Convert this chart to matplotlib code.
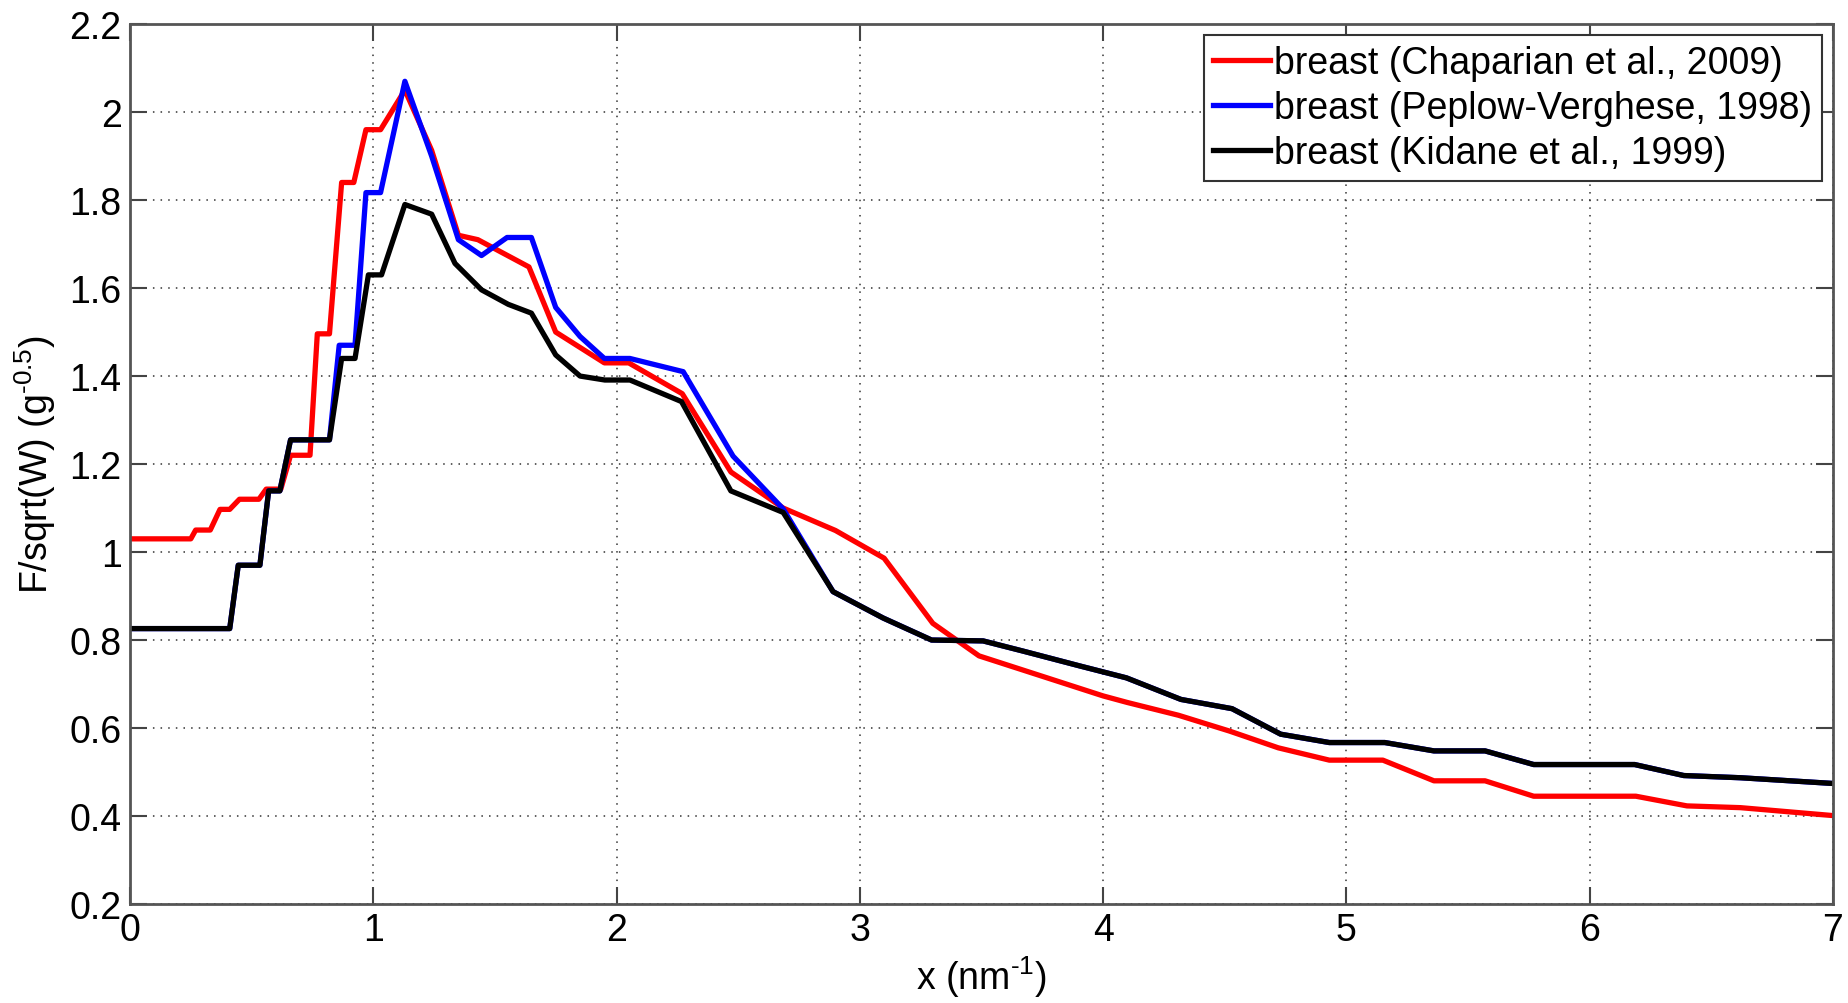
import matplotlib
matplotlib.use("Agg")
import matplotlib.pyplot as plt
from matplotlib.ticker import FuncFormatter

plt.rcParams['font.family'] = ['Liberation Sans', 'DejaVu Sans']
plt.rcParams['mathtext.fontset'] = 'custom'
plt.rcParams['mathtext.rm'] = 'Liberation Sans'
plt.rcParams['mathtext.it'] = 'Liberation Sans'
plt.rcParams['axes.unicode_minus'] = False

# Chaparian et al., 2009
x_chap = [0, 0.25, 0.27, 0.33, 0.37, 0.41, 0.45, 0.53, 0.56, 0.62, 0.66, 0.74,
          0.77, 0.82, 0.87, 0.92, 0.97, 1.03, 1.13, 1.24, 1.35, 1.43, 1.64, 1.75,
          1.95, 2.05, 2.27, 2.47, 2.685, 2.9, 3.1, 3.3, 3.49, 4.0, 4.1, 4.31,
          4.52, 4.72, 4.93, 5.15, 5.36, 5.57, 5.77, 6.19, 6.4, 6.62, 7.0]
y_chap = [1.03, 1.03, 1.05, 1.05, 1.097, 1.097, 1.12, 1.12, 1.143, 1.143, 1.22, 1.22,
          1.496, 1.496, 1.84, 1.84, 1.96, 1.96, 2.05, 1.913, 1.72, 1.71, 1.648, 1.50,
          1.43, 1.43, 1.36, 1.182, 1.10, 1.049, 0.986, 0.838, 0.764, 0.673, 0.658, 0.629,
          0.593, 0.555, 0.527, 0.527, 0.48, 0.48, 0.445, 0.445, 0.423, 0.419, 0.401]

# Kidane et al., 1999
x_kid = [0, 0.41, 0.445, 0.534, 0.57, 0.616, 0.66, 0.82, 0.87, 0.925, 0.98, 1.034,
         1.13, 1.24, 1.336, 1.445, 1.555, 1.65, 1.75, 1.85, 1.952, 2.055, 2.267,
         2.47, 2.685, 2.89, 3.096, 3.295, 3.507, 3.67, 3.905, 4.096, 4.32, 4.53,
         4.73, 4.93, 5.158, 5.36, 5.57, 5.77, 6.185, 6.387, 6.62, 7.0]
y_kid = [0.826, 0.826, 0.97, 0.97, 1.139, 1.139, 1.255, 1.255, 1.44, 1.44, 1.63, 1.63,
         1.79, 1.768, 1.656, 1.596, 1.563, 1.543, 1.448, 1.40, 1.391, 1.391, 1.342,
         1.139, 1.09, 0.91, 0.85, 0.80, 0.798, 0.775, 0.741, 0.714, 0.665, 0.644,
         0.586, 0.567, 0.567, 0.548, 0.548, 0.517, 0.517, 0.492, 0.487, 0.474]

# Peplow-Verghese, 1998
x_pep = [0, 0.41, 0.445, 0.534, 0.57, 0.616, 0.66, 0.82, 0.86, 0.925, 0.97, 1.03,
         1.13, 1.24, 1.35, 1.445, 1.55, 1.65, 1.75, 1.85, 1.95, 2.055, 2.274,
         2.479, 2.685, 2.89, 3.096, 3.295, 3.507, 3.67, 3.905, 4.096, 4.32, 4.53,
         4.73, 4.93, 5.158, 5.36, 5.57, 5.77, 6.185, 6.387, 6.62, 7.0]
y_pep = [0.826, 0.826, 0.97, 0.97, 1.139, 1.139, 1.255, 1.255, 1.47, 1.47, 1.817, 1.817,
         2.07, 1.90, 1.71, 1.674, 1.715, 1.715, 1.556, 1.49, 1.44, 1.44, 1.41,
         1.218, 1.098, 0.91, 0.85, 0.80, 0.798, 0.775, 0.741, 0.714, 0.665, 0.644,
         0.586, 0.567, 0.567, 0.548, 0.548, 0.517, 0.517, 0.492, 0.487, 0.474]

labels = ['breast (Chaparian et al., 2009)',
          'breast (Peplow-Verghese, 1998)',
          'breast (Kidane et al., 1999)']

fig = plt.figure(figsize=(18.49, 10.04), dpi=100)
ax = fig.add_axes([0.0703, 0.0986, 0.9913 - 0.0703, 0.975 - 0.0986])

lw = 3.8
ax.plot(x_chap, y_chap, color='#ff0000', lw=lw, label=labels[0])
ax.plot(x_pep, y_pep, color='#0000ff', lw=lw, label=labels[1])
ax.plot(x_kid, y_kid, color='#000000', lw=lw, label=labels[2])

ax.set_xlim(0, 7)
ax.set_ylim(0.2, 2.2)
ax.set_xticks(range(0, 8))
ax.set_yticks([0.2, 0.4, 0.6, 0.8, 1.0, 1.2, 1.4, 1.6, 1.8, 2.0, 2.2])
ax.yaxis.set_major_formatter(FuncFormatter(lambda v, p: ('%g' % round(v, 2))))

ax.grid(True, linestyle=(0, (1, 4)), color='#333333', linewidth=1.1)
ax.tick_params(direction='in', length=12, width=1.5, top=True, right=True,
               labelsize=27, colors='#444444', labelcolor='black', pad=6)
for s in ax.spines.values():
    s.set_color('#555555')
    s.set_linewidth(2)

ax.set_xlabel('x (nm$^{\u2010 1}$)', fontsize=27, labelpad=4)
ax.set_ylabel('F/sqrt(W) (g$^{\u20100.5}$)', fontsize=27, labelpad=8)

leg = ax.legend(loc='upper right', fontsize=27, frameon=True, fancybox=False,
                edgecolor='#333333', framealpha=1, borderpad=0.25,
                handlelength=1.5, handletextpad=0.12, labelspacing=0.25,
                borderaxespad=0.3)
leg.get_frame().set_linewidth(1.5)

fig.savefig('out.png', dpi=100)
